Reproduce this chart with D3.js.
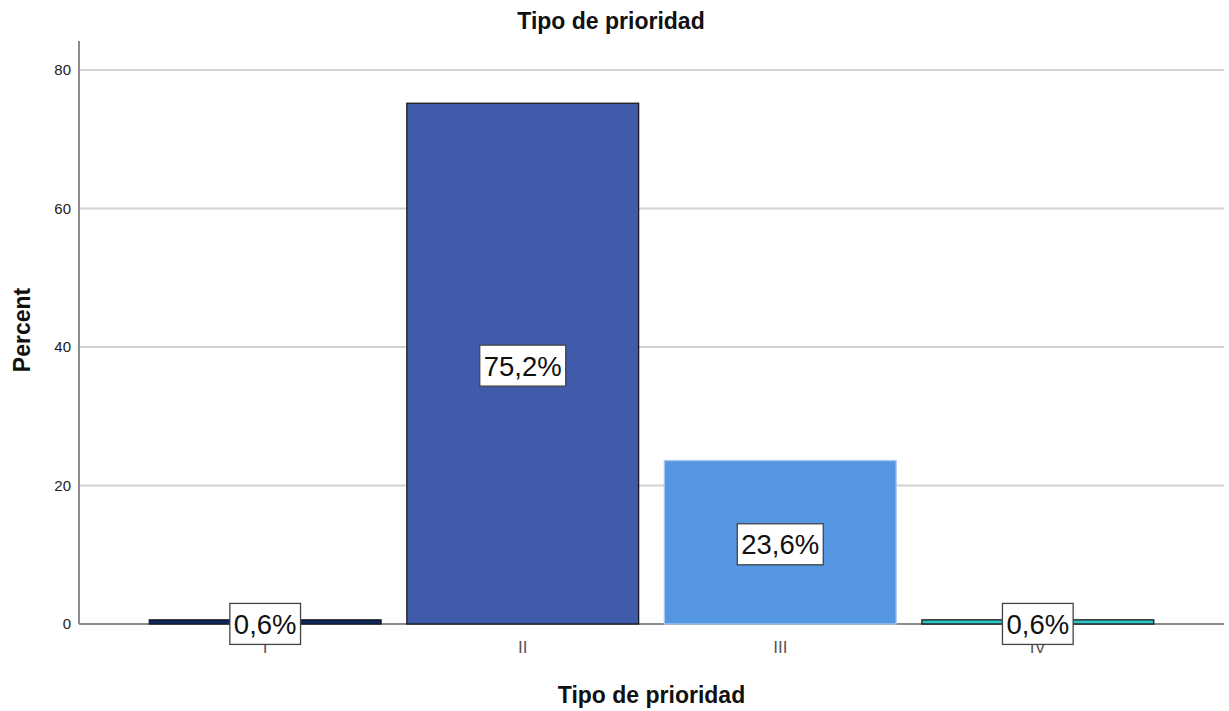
<!DOCTYPE html>
<html>
<head>
<meta charset="utf-8">
<script src="https://cdn.jsdelivr.net/npm/d3@7"></script>
<style>
  html, body { margin: 0; padding: 0; background: #fff; }
  text { font-family: "Liberation Sans", Arial, sans-serif; }
</style>
</head>
<body>
<svg id="chart" width="1229" height="711"></svg>
<script>
// Data
const categories = ["I", "II", "III", "IV"];
const percents = [0.6, 75.2, 23.6, 0.6];
const labels = ["0,6%", "75,2%", "23,6%", "0,6%"];
const fills = ["#0b2565", "#3f5ba9", "#5596e3", "#2ec4c4"];
const strokes = ["#1a1a1a", "#1a1a1a", "#a9c6f0", "#1a1a1a"];
const yTicks = [0, 20, 40, 60, 80];

const svg = d3.select("#chart");
const plotLeft = 79, plotRight = 1224, plotTop = 41, plotBottom = 624;
const fontFamily = "'Liberation Sans', Arial, sans-serif";

const x = d3.scaleBand().domain(categories).range([plotLeft, plotRight])
  .paddingInner(0.1).paddingOuter(0.273);
const y = d3.scaleLinear().domain([0, 80]).range([plotBottom, 70]);

// Gridlines
svg.append("g").selectAll("line").data(yTicks.filter(d => d > 0)).join("line")
  .attr("x1", plotLeft + 1).attr("x2", plotRight)
  .attr("y1", d => y(d)).attr("y2", d => y(d))
  .attr("stroke", "#d2d2d2").attr("stroke-width", 2);

// Y axis (labels only, no tick marks)
const yAxis = svg.append("g").attr("transform", `translate(${plotLeft},0)`)
  .call(d3.axisLeft(y).tickValues(yTicks).tickSize(0).tickPadding(8));
yAxis.select(".domain").remove();
yAxis.selectAll("text").attr("font-size", 15).attr("fill", "#222")
  .style("font-family", fontFamily);
svg.append("line").attr("x1", plotLeft).attr("x2", plotLeft).attr("y1", plotTop).attr("y2", plotBottom)
  .attr("stroke", "#8c8c8c").attr("stroke-width", 2);

// X axis: category labels under each bar
const xAxis = svg.append("g").attr("transform", `translate(0,${plotBottom})`)
  .call(d3.axisBottom(x).tickSize(0).tickPadding(17));
xAxis.select(".domain").remove();
xAxis.selectAll(".tick text").attr("font-size", 17).attr("fill", "#555")
  .style("font-family", fontFamily);
svg.append("line").attr("x1", plotLeft).attr("x2", plotRight).attr("y1", plotBottom).attr("y2", plotBottom)
  .attr("stroke", "#8c8c8c").attr("stroke-width", 2);

// Bars
svg.append("g").selectAll("rect").data(categories).join("rect")
  .attr("x", d => x(d))
  .attr("width", x.bandwidth())
  .attr("y", (d, i) => y(percents[i]))
  .attr("height", (d, i) => y(0) - y(percents[i]))
  .attr("fill", (d, i) => fills[i])
  .attr("stroke", (d, i) => strokes[i])
  .attr("stroke-width", 1.3);

// Value labels in boxes
const lab = svg.append("g").selectAll("g").data(categories).join("g")
  .attr("transform", (d, i) => `translate(${x(d) + x.bandwidth() / 2},${y(percents[i] / 2) + 2})`);
lab.each(function(d, i) {
  const g = d3.select(this);
  const t = g.append("text").text(labels[i])
    .attr("text-anchor", "middle").attr("dy", "0.36em")
    .attr("font-size", 27.5).attr("fill", "#111");
  const bb = t.node().getBBox();
  g.insert("rect", "text")
    .attr("x", bb.x - 4).attr("y", -20.5)
    .attr("width", bb.width + 8).attr("height", 41)
    .attr("fill", "#fff").attr("stroke", "#444").attr("stroke-width", 1.3);
});

// Titles
svg.append("text").attr("x", 611).attr("y", 29).attr("text-anchor", "middle")
  .attr("font-size", 23).attr("font-weight", "bold").attr("fill", "#111").text("Tipo de prioridad");
svg.append("text").attr("x", (plotLeft + plotRight) / 2).attr("y", 703).attr("text-anchor", "middle")
  .attr("font-size", 23).attr("font-weight", "bold").attr("fill", "#111").text("Tipo de prioridad");
svg.append("text").attr("transform", "translate(30,330) rotate(-90)").attr("text-anchor", "middle")
  .attr("font-size", 23).attr("font-weight", "bold").attr("fill", "#111").text("Percent");
</script>
</body>
</html>
